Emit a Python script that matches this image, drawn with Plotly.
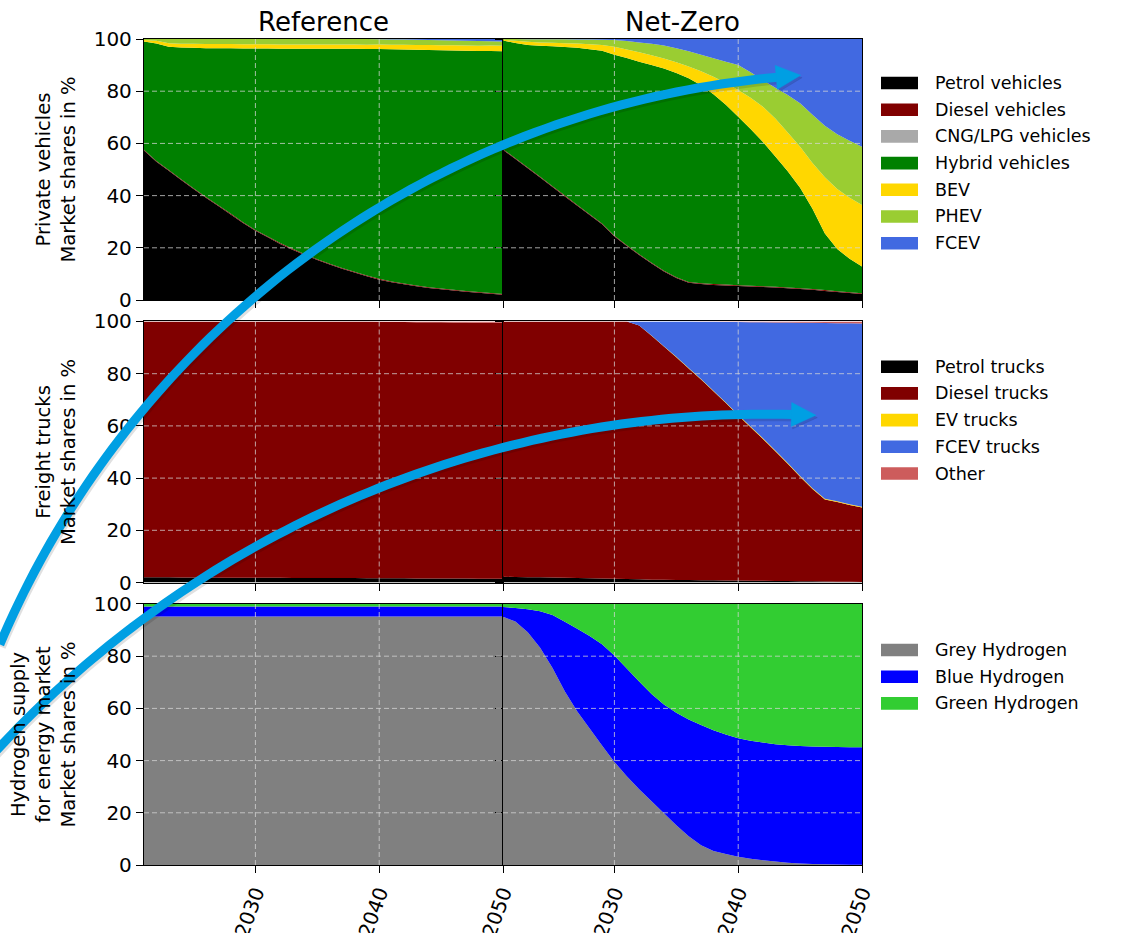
import numpy as np
import plotly.graph_objects as go
from plotly.subplots import make_subplots

# ---------------------------------------------------------------- data ----
YEARS = list(range(2021, 2051))

SCENARIOS = ["Reference", "Net-Zero"]

# Private vehicles, market shares in %
PV_NAMES = ["Petrol vehicles", "Diesel vehicles", "CNG/LPG vehicles",
            "Hybrid vehicles", "BEV", "PHEV", "FCEV"]
PV_COLORS = ["#000000", "#800000", "#a9a9a9", "#008000",
             "#ffd700", "#9acd32", "#4169e1"]

REF_PETROL_VEH = [57.3, 53.0, 49.5, 46.0, 42.5, 39.2, 36.0, 32.8, 29.5, 26.5,
                  24.0, 21.5, 19.3, 17.2, 15.3, 13.6, 12.0, 10.5, 9.1, 7.8,
                  6.8, 6.0, 5.3, 4.6, 4.1, 3.6, 3.2, 2.8, 2.4, 2.0]
REF_DIESEL_VEH = [0.3] * 30
REF_CNG_VEH = [0.0] * 30
REF_HYBRID_VEH = [41.4, 45.0, 47.2, 50.4, 53.8, 57.0, 60.2, 63.4, 66.6, 69.6,
                  72.1, 74.5, 76.7, 78.8, 80.7, 82.4, 84.0, 85.5, 86.8, 88.1,
                  89.0, 89.7, 90.3, 90.9, 91.3, 91.7, 92.0, 92.3, 92.7, 93.0]
REF_BEV = [0.6, 1.0, 1.4, 1.5, 1.6, 1.6, 1.6, 1.6, 1.6, 1.6,
           1.6, 1.6, 1.6, 1.6, 1.6, 1.6, 1.6, 1.6, 1.6, 1.7,
           1.7, 1.8, 1.8, 1.9, 1.9, 2.0, 2.0, 2.0, 2.1, 2.1]
REF_PHEV = [0.4, 0.7, 1.6, 1.8, 1.8, 1.9, 1.9, 1.9, 2.0, 2.0,
            2.0, 2.1, 2.1, 2.1, 2.1, 2.1, 2.1, 2.1, 2.2, 2.0,
            2.0, 2.0, 2.0, 1.9, 1.9, 1.8, 1.8, 1.8, 1.6, 1.6]
REF_FCEV = [0.0, 0.0, 0.0, 0.0, 0.0, 0.0, 0.0, 0.0, 0.0, 0.0,
            0.0, 0.0, 0.0, 0.0, 0.0, 0.0, 0.0, 0.0, 0.0, 0.1,
            0.2, 0.2, 0.3, 0.4, 0.5, 0.6, 0.7, 0.8, 0.9, 1.0]

NZ_PETROL_VEH = [57.5, 54.0, 50.5, 46.9, 43.3, 39.7, 36.1, 32.6, 29.0, 24.3,
                 20.7, 17.2, 14.0, 10.9, 8.4, 6.6, 6.1, 5.8, 5.6, 5.4,
                 5.2, 5.0, 4.8, 4.5, 4.2, 3.9, 3.5, 3.1, 2.7, 2.3]
NZ_DIESEL_VEH = [0.3] * 30
NZ_CNG_VEH = [0.0] * 30
NZ_HYBRID_VEH = [41.6, 44.2, 46.9, 50.2, 53.6, 56.9, 60.2, 63.2, 66.2, 69.4,
                 71.7, 73.8, 75.7, 77.5, 78.3, 78.1, 75.9, 72.7, 68.9, 64.5,
                 60.0, 55.2, 49.9, 44.5, 38.5, 30.8, 21.7, 16.1, 12.8, 10.2]
NZ_BEV = [0.3, 0.8, 1.2, 1.3, 1.4, 1.5, 1.7, 1.9, 2.2, 3.0,
          3.3, 3.6, 3.8, 3.8, 4.1, 4.5, 5.3, 6.7, 8.3, 10.3,
          12.0, 13.5, 14.5, 14.9, 15.7, 17.5, 21.5, 23.0, 23.4, 23.6]
NZ_PHEV = [0.3, 0.7, 1.0, 1.2, 1.3, 1.5, 1.5, 1.8, 2.0, 2.6,
           3.2, 3.8, 4.4, 5.0, 5.4, 5.8, 6.4, 7.1, 8.2, 9.5,
           9.8, 10.2, 11.8, 14.3, 16.7, 18.5, 19.8, 21.0, 21.8, 22.3]
NZ_FCEV = [0.0, 0.0, 0.1, 0.1, 0.1, 0.1, 0.2, 0.2, 0.3, 0.4,
           0.8, 1.3, 1.8, 2.5, 3.5, 4.7, 6.0, 7.4, 8.7, 10.0,
           12.7, 15.8, 18.7, 21.5, 24.6, 29.0, 33.2, 36.5, 39.0, 41.3]

# Freight trucks, market shares in %
TR_NAMES = ["Petrol trucks", "Diesel trucks", "EV trucks", "FCEV trucks", "Other"]
TR_COLORS = ["#000000", "#800000", "#ffd700", "#4169e1", "#cd5c5c"]

REF_PETROL_TR = [2.0, 2.0, 2.0, 1.9, 1.9, 1.9, 1.8, 1.8, 1.8, 1.8,
                 1.8, 1.8, 1.7, 1.7, 1.7, 1.7, 1.7, 1.7, 1.6, 1.6,
                 1.6, 1.6, 1.5, 1.5, 1.5, 1.5, 1.5, 1.4, 1.4, 1.4]
REF_DIESEL_TR = [98.0, 98.0, 98.0, 98.1, 98.1, 98.1, 98.2, 98.2, 98.2, 98.2,
                 98.2, 98.2, 98.3, 98.3, 98.3, 98.3, 98.3, 98.3, 98.4, 98.3,
                 98.2, 98.2, 98.2, 98.2, 98.2, 98.1, 98.1, 98.1, 98.1, 98.1]
REF_EV_TR = [0.0] * 30
REF_FCEV_TR = [0.0] * 30
REF_OTHER_TR = [0.0, 0.0, 0.0, 0.0, 0.0, 0.0, 0.0, 0.0, 0.0, 0.0,
                0.0, 0.0, 0.0, 0.0, 0.0, 0.0, 0.0, 0.0, 0.0, 0.1,
                0.2, 0.2, 0.3, 0.3, 0.3, 0.4, 0.4, 0.5, 0.5, 0.5]

NZ_PETROL_TR = [2.2, 2.1, 2.0, 2.0, 1.9, 1.8, 1.7, 1.6, 1.5, 1.4,
                1.3, 1.2, 1.1, 1.1, 1.0, 1.0, 0.9, 0.9, 0.8, 0.8,
                0.7, 0.7, 0.6, 0.6, 0.5, 0.5, 0.4, 0.3, 0.3, 0.2]
NZ_DIESEL_TR = [97.8, 97.9, 98.0, 98.0, 98.1, 98.2, 98.3, 98.4, 98.5, 98.6,
                98.7, 97.3, 93.4, 89.3, 85.3, 81.0, 76.9, 72.4, 68.0, 63.2,
                58.8, 54.3, 49.7, 44.9, 40.0, 35.3, 31.4, 30.5, 29.4, 28.5]
NZ_EV_TR = [0.0, 0.0, 0.0, 0.0, 0.0, 0.0, 0.0, 0.0, 0.0, 0.0,
            0.0, 0.0, 0.1, 0.1, 0.2, 0.2, 0.2, 0.2, 0.2, 0.3,
            0.3, 0.3, 0.3, 0.3, 0.3, 0.3, 0.3, 0.3, 0.3, 0.3]
NZ_FCEV_TR = [0.0, 0.0, 0.0, 0.0, 0.0, 0.0, 0.0, 0.0, 0.0, 0.0,
              0.0, 1.5, 5.4, 9.5, 13.5, 17.8, 21.9, 26.4, 30.8, 35.5,
              39.9, 44.4, 49.0, 53.8, 58.7, 63.4, 67.3, 68.2, 69.3, 70.2]
NZ_OTHER_TR = [0.0, 0.0, 0.0, 0.0, 0.0, 0.0, 0.0, 0.0, 0.0, 0.0,
               0.0, 0.0, 0.0, 0.0, 0.0, 0.0, 0.1, 0.1, 0.2, 0.2,
               0.3, 0.3, 0.4, 0.4, 0.5, 0.5, 0.6, 0.7, 0.7, 0.8]

# Hydrogen supply for the energy market, market shares in %
H2_NAMES = ["Grey Hydrogen", "Blue Hydrogen", "Green Hydrogen"]
H2_COLORS = ["#808080", "#0000ff", "#32cd32"]

REF_GREY_H2 = [95.2] * 30
REF_BLUE_H2 = [3.8] * 30
REF_GREEN_H2 = [1.0] * 30

NZ_GREY_H2 = [95.1, 93.3, 89.2, 83.2, 75.5, 66.5, 58.8, 52.3, 45.8, 39.5,
              34.0, 29.0, 24.4, 19.8, 15.2, 11.0, 7.6, 5.4, 4.2, 3.2,
              2.4, 1.8, 1.3, 0.9, 0.6, 0.4, 0.3, 0.2, 0.1, 0.1]
NZ_BLUE_H2 = [3.7, 5.2, 8.8, 14.0, 20.3, 26.7, 31.7, 35.4, 38.8, 40.8,
              41.3, 41.3, 41.1, 41.7, 43.1, 44.7, 46.0, 46.2, 45.8, 45.4,
              45.2, 45.1, 45.0, 45.0, 45.0, 45.0, 45.0, 45.0, 45.0, 45.0]
NZ_GREEN_H2 = [1.2, 1.5, 2.0, 2.8, 4.2, 6.8, 9.5, 12.3, 15.4, 19.7,
               24.7, 29.7, 34.5, 38.5, 41.7, 44.3, 46.4, 48.4, 50.0, 51.4,
               52.4, 53.1, 53.7, 54.1, 54.4, 54.6, 54.7, 54.8, 54.9, 54.9]

TICK_YEARS = [2030, 2040, 2050]
GRID_YEARS = [2030, 2040]
Y_TICKS = [0, 20, 40, 60, 80, 100]
GRID_SHARES = [20, 40, 60, 80]

ROW_TITLES = ["Private vehicles<br>Market shares in %",
              "Freight trucks<br>Market shares in %",
              "Hydrogen supply<br>for energy market<br>Market shares in %"]

PANELS = [
    (PV_NAMES, PV_COLORS,
     [REF_PETROL_VEH, REF_DIESEL_VEH, REF_CNG_VEH, REF_HYBRID_VEH, REF_BEV, REF_PHEV, REF_FCEV],
     [NZ_PETROL_VEH, NZ_DIESEL_VEH, NZ_CNG_VEH, NZ_HYBRID_VEH, NZ_BEV, NZ_PHEV, NZ_FCEV]),
    (TR_NAMES, TR_COLORS,
     [REF_PETROL_TR, REF_DIESEL_TR, REF_EV_TR, REF_FCEV_TR, REF_OTHER_TR],
     [NZ_PETROL_TR, NZ_DIESEL_TR, NZ_EV_TR, NZ_FCEV_TR, NZ_OTHER_TR]),
    (H2_NAMES, H2_COLORS,
     [REF_GREY_H2, REF_BLUE_H2, REF_GREEN_H2],
     [NZ_GREY_H2, NZ_BLUE_H2, NZ_GREEN_H2]),
]

# guide points (page pixels) for the two curved highlight arrows
ARROW_GUIDES = [
    [(-6, 642), (33, 573), (67, 520), (100, 470), (140, 417), (183, 374),
     (253, 300), (320, 246), (380, 204), (440, 170), (502, 141),
     (560, 122), (615, 107), (700, 89), (778, 80)],
    [(-6, 760), (50, 697), (100, 650), (150, 607), (190, 580), (253, 550),
     (380, 493), (520, 447), (615, 428), (738, 413), (793, 411)],
]

# ---------------------------------------------------------------- layout ----
FIG_W, FIG_H = 1122, 933
M_L, M_R, M_T, M_B = 144, 260, 39, 68
PW = FIG_W - M_L - M_R
PH = FIG_H - M_T - M_B
FONT = "DejaVu Sans"
GRID_COLOR = "rgba(215,215,215,0.75)"
ARROW_COLOR = "#009fe3"


def pxx(x):
    return (x - M_L) / PW


def pxy(y):
    return (FIG_H - M_B - y) / PH


fig = make_subplots(rows=3, cols=2, horizontal_spacing=0, vertical_spacing=0.026)

for r, (names, colors, ref, nz) in enumerate(PANELS, start=1):
    for c, series in enumerate([ref, nz], start=1):
        for name, color, vals in zip(names, colors, series):
            fig.add_trace(
                go.Scatter(
                    x=YEARS, y=vals, name=name, mode="none",
                    stackgroup=f"r{r}c{c}", fillcolor=color,
                    showlegend=False, hoverinfo="skip",
                ),
                row=r, col=c,
            )

tick_font = dict(family=FONT, size=20, color="black")
for r in range(1, 4):
    for c in range(1, 3):
        fig.update_xaxes(
            range=[2021, 2050], tickvals=TICK_YEARS, ticks="outside", ticklen=7,
            tickwidth=1.2, tickcolor="black", showline=True, linecolor="black",
            linewidth=1.3, mirror=True, showgrid=False, zeroline=False,
            showticklabels=(r == 3), tickangle=-70, tickfont=tick_font,
            row=r, col=c,
        )
        fig.update_yaxes(
            range=[0, 100], tickvals=Y_TICKS, ticks="outside", ticklen=7,
            tickwidth=1.2, tickcolor="black", showline=True, linecolor="black",
            linewidth=1.3, mirror=True, showgrid=False, zeroline=False,
            showticklabels=(c == 1), tickfont=tick_font,
            row=r, col=c,
        )
    fig.update_yaxes(
        title=dict(text=ROW_TITLES[r - 1], font=dict(family=FONT, size=19.5, color="black"),
                   standoff=12),
        row=r, col=1,
    )

shapes = []
annotations = []

# dashed grid drawn on top of the filled areas
for k in range(1, 7):
    xa = "x" if k == 1 else f"x{k}"
    ya = "y" if k == 1 else f"y{k}"
    for yr in GRID_YEARS:
        shapes.append(dict(type="line", xref=xa, yref=f"{ya} domain", x0=yr, x1=yr,
                           y0=0, y1=1, layer="above",
                           line=dict(color=GRID_COLOR, width=1, dash="5px,3px")))
    for v in GRID_SHARES:
        shapes.append(dict(type="line", xref=f"{xa} domain", yref=ya, x0=0, x1=1,
                           y0=v, y1=v, layer="above",
                           line=dict(color=GRID_COLOR, width=1, dash="5px,3px")))

# column titles
for c, title in enumerate(SCENARIOS, start=1):
    xa = "x" if c == 1 else "x2"
    ya = "y" if c == 1 else "y2"
    annotations.append(dict(text=title, xref=f"{xa} domain", yref=f"{ya} domain",
                            x=0.5, y=1, xanchor="center", yanchor="bottom", yshift=0,
                            showarrow=False, font=dict(family=FONT, size=26, color="black")))

# one legend block beside each row
LEGEND_FIRST_Y = [83, 366.7, 650]
LEGEND_STEP = 26.7
for (names, colors, _, _), y0 in zip(PANELS, LEGEND_FIRST_Y):
    for i, (name, color) in enumerate(zip(names, colors)):
        yc = y0 + i * LEGEND_STEP
        shapes.append(dict(type="rect", xref="paper", yref="paper",
                           x0=pxx(881), x1=pxx(918), y0=pxy(yc + 6.3), y1=pxy(yc - 6.3),
                           fillcolor=color, line=dict(width=0), layer="above"))
        annotations.append(dict(text=name, xref="paper", yref="paper",
                                x=pxx(933), y=pxy(yc), xanchor="left", yanchor="middle",
                                showarrow=False,
                                font=dict(family=FONT, size=17.5, color="black")))


# curved highlight arrows: circular arc fitted to the guide points
def arc_points(points, n=90):
    P = np.array(points, dtype=float)
    A = np.c_[P[:, 0], P[:, 1], np.ones(len(P))]
    b = -(P[:, 0] ** 2 + P[:, 1] ** 2)
    D, E, F = np.linalg.lstsq(A, b, rcond=None)[0]
    cx, cy = -D / 2, -E / 2
    rad = np.sqrt(cx ** 2 + cy ** 2 - F)
    a0 = np.arctan2(P[0, 1] - cy, P[0, 0] - cx)
    a1 = np.arctan2(P[-1, 1] - cy, P[-1, 0] - cx)
    ang = np.linspace(a0, a1, n)
    pts = np.c_[cx + rad * np.cos(ang), cy + rad * np.sin(ang)]
    sgn = np.sign(a1 - a0)
    tangent = sgn * np.array([-np.sin(a1), np.cos(a1)])
    return pts, tangent


def arrow_shapes(points, dx=0.0, dy=0.0, color=ARROW_COLOR, width=9):
    pts, d = arc_points(points)
    pts = pts + np.array([dx, dy])
    path = "M " + " L ".join("{:.5f},{:.5f}".format(pxx(x), pxy(y)) for x, y in pts)
    p3 = pts[-1]
    n = np.array([-d[1], d[0]])
    tip = p3 + 23 * d
    back = p3 - 1.5 * d
    a, b = back + 12 * n, back - 12 * n
    head = "M {},{} L {},{} L {},{} Z".format(
        pxx(tip[0]), pxy(tip[1]), pxx(a[0]), pxy(a[1]), pxx(b[0]), pxy(b[1]))
    return [
        dict(type="path", xref="paper", yref="paper", path=path, layer="above",
             line=dict(color=color, width=width)),
        dict(type="path", xref="paper", yref="paper", path=head, layer="above",
             fillcolor=color, line=dict(color=color, width=0.5)),
    ]


for guide in ARROW_GUIDES:
    shapes += arrow_shapes(guide, dx=1.5, dy=2.5, color="rgba(0,0,0,0.12)", width=9)
for guide in ARROW_GUIDES:
    shapes += arrow_shapes(guide)

fig.update_layout(
    width=FIG_W, height=FIG_H,
    margin=dict(l=M_L, r=M_R, t=M_T, b=M_B, autoexpand=False),
    paper_bgcolor="white", plot_bgcolor="white",
    font=dict(family=FONT, color="black"),
    showlegend=False,
    shapes=shapes, annotations=annotations,
)

fig.write_html("out.html")
